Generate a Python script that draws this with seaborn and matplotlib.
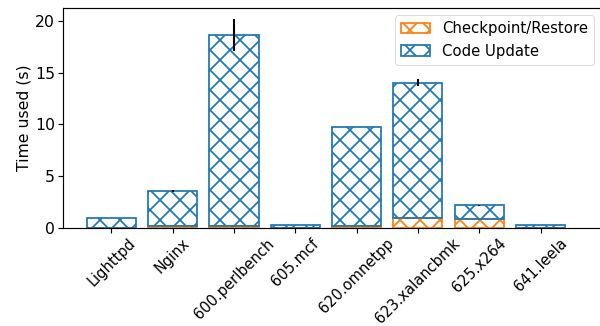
import numpy as np
import matplotlib
matplotlib.use("Agg")
import matplotlib.pyplot as plt
import seaborn as sns

# benchmark names and measured times (s)
benchmarks = ["Lighttpd", "Nginx", "600.perlbench", "605.mcf",
              "620.omnetpp", "623.xalancbmk", "625.x264", "641.leela"]
checkpoint_restore = [0.03, 0.2, 0.15, 0.03, 0.15, 0.95, 0.85, 0.03]
code_update = [0.94, 3.37, 18.5, 0.27, 9.6, 13.1, 1.35, 0.27]
total_err = [0.0, 0.08, 1.55, 0.0, 0.0, 0.35, 0.04, 0.0]
yticks = [0, 5, 10, 15, 20]

ORANGE = "#ff7f0e"
BLUE = "#1f77b4"
DPI = 60

plt.rcParams.update({
    "font.size": 18.75,
    "xtick.labelsize": 17.5,
    "legend.fontsize": 17.9,
    "hatch.linewidth": 2.1,
    "axes.linewidth": 1.4,
    "xtick.major.size": 6,
    "ytick.major.size": 6,
    "xtick.major.width": 1.4,
    "ytick.major.width": 1.4,
})

fig = plt.figure(figsize=(600 / DPI, 326 / DPI), dpi=DPI)
ax = fig.add_axes([63 / 600, 1 - 228 / 326, 1 - 63 / 600 + 0.003, 220 / 326])

sns.barplot(x=benchmarks, y=checkpoint_restore, color=ORANGE, fill=False,
            hatch="x", width=0.8, linewidth=2.1, label="Checkpoint/Restore", ax=ax)
sns.barplot(x=benchmarks, y=code_update, bottom=checkpoint_restore, color=BLUE,
            fill=False, hatch="x", width=0.8, linewidth=2.1, label="Code Update", ax=ax)

totals = np.array(checkpoint_restore) + np.array(code_update)
ax.errorbar(np.arange(len(benchmarks)), totals, yerr=total_err, fmt="none",
            ecolor="black", elinewidth=2.5, capsize=0)

ax.set_xlim(-0.79, 8.0)
ax.set_ylim(0, 21.25)
ax.set_yticks(yticks)
ax.set_ylabel("Time used (s)")
ax.set_xlabel("")
ax.set_xticks(range(len(benchmarks)))
ax.set_xticklabels(benchmarks, rotation=45)
ax.legend(loc="upper right")

fig.savefig("out.png", dpi=DPI)
